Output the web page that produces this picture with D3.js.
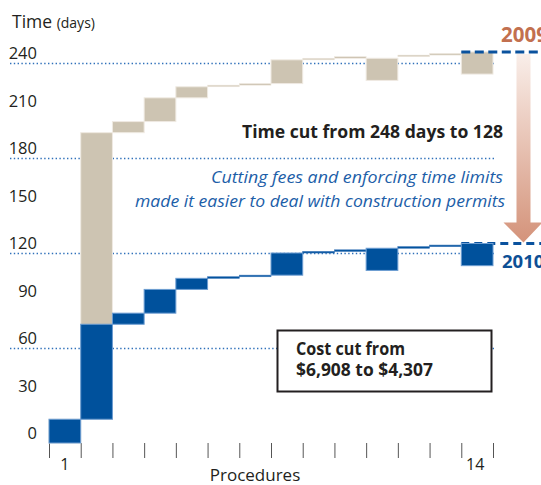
<!DOCTYPE html>
<html>
<head>
<meta charset="utf-8">
<script src="https://cdn.jsdelivr.net/npm/d3@7"></script>
<style>
  body { margin: 0; background: #fff; }
  svg { display: block; font-family: "Open Sans", "Noto Sans", sans-serif; }
</style>
</head>
<body>
<div id="chart"></div>
<script>
// procedures and their start / end day (cumulative)
var procedures = [1, 2, 3, 4, 5, 6, 7, 8, 9, 10, 11, 12, 13, 14];
var start2009 = [0, 15, 196, 203, 218, 225, 226, 227, 242, 243, 229, 244, 245, 233];
var end2009   = [15, 196, 203, 218, 225, 226, 227, 242, 243, 244, 243, 245, 246, 247];
var start2010 = [0, 15, 75, 82, 97, 104, 105, 106, 120, 121, 109, 123, 124, 112];
var end2010   = [15, 75, 82, 97, 104, 105, 106, 120, 121, 122, 123, 124, 125, 126];

var yTicks = [0, 30, 60, 90, 120, 150, 180, 210, 240];
var gridTicks = [60, 120, 180, 240];
var labelledProcedures = [1, 14];

var width = 541, height = 485;

var svg = d3.select("#chart").append("svg")
  .attr("width", width)
  .attr("height", height);

var x = d3.scaleBand()
  .domain(procedures)
  .range([49, 493])
  .padding(0);

var y = d3.scaleLinear()
  .domain([0, 240])
  .range([443, 63]);

// dotted grid lines
svg.append("g")
  .selectAll("line")
  .data(gridTicks)
  .join("line")
  .attr("x1", 10)
  .attr("x2", 495)
  .attr("y1", d => y(d) + 0.5)
  .attr("y2", d => y(d) + 0.5)
  .attr("stroke", "#2f70ba")
  .attr("stroke-width", 1.3)
  .attr("stroke-dasharray", "1.4,2.4");

// y tick labels
svg.append("g")
  .selectAll("text")
  .data(yTicks)
  .join("text")
  .attr("x", 37)
  .attr("y", d => y(d) - 4)
  .attr("text-anchor", "end")
  .attr("font-size", 16.5)
  .attr("fill", "#231f20")
  .text(d => d);

// axis title
var title = svg.append("text")
  .attr("x", 12)
  .attr("y", 28)
  .attr("fill", "#231f20")
  .attr("font-size", 17.5)
  .text("Time ");
title.append("tspan").attr("font-size", 14).text("(days)");

// x axis ticks sit on band edges
var xEdge = d3.scaleLinear().domain([0.5, 14.5]).range([49, 493]);
var xAxis = svg.append("g")
  .attr("transform", "translate(0,443)")
  .call(d3.axisBottom(xEdge)
    .tickValues(d3.range(0.5, 15, 1))
    .tickSize(15)
    .tickFormat(""));
xAxis.select(".domain").remove();
xAxis.selectAll(".tick line").attr("stroke", "#555").attr("stroke-width", 1);

svg.append("g")
  .selectAll("text")
  .data(labelledProcedures)
  .join("text")
  .attr("x", d => x(d) + x.bandwidth() / 2 - (d === 14 ? 2 : 0))
  .attr("y", 470)
  .attr("text-anchor", "middle")
  .attr("font-size", 16)
  .attr("fill", "#231f20")
  .text(d => d);

svg.append("text")
  .attr("x", 255)
  .attr("y", 481)
  .attr("text-anchor", "middle")
  .attr("font-size", 17)
  .attr("fill", "#231f20")
  .text("Procedures");

var data2009 = procedures.map((p, i) => ({ p: p, s: start2009[i], e: end2009[i] }));
var data2010 = procedures.map((p, i) => ({ p: p, s: start2010[i], e: end2010[i] }));

// 2009 bars (tan)
svg.append("g")
  .selectAll("rect")
  .data(data2009)
  .join("rect")
  .attr("x", d => x(d.p))
  .attr("width", x.bandwidth())
  .attr("y", d => y(d.e))
  .attr("height", d => y(d.s) - y(d.e))
  .attr("fill", "#cdc4b2")
  .attr("stroke", "#efeae2")
  .attr("stroke-width", d => d.e - d.s > 1 ? 1 : 0.6);

var end10 = d3.max(end2010);
var end09 = d3.max(end2009);

// 2010 dashed total line (under the bar)
svg.append("line")
  .attr("x1", x(14))
  .attr("x2", width)
  .attr("y1", y(end10))
  .attr("y2", y(end10))
  .attr("stroke", "#0a529e")
  .attr("stroke-width", 3)
  .attr("stroke-dasharray", "8,5");

// 2010 bars (blue)
svg.append("g")
  .selectAll("rect")
  .data(data2010)
  .join("rect")
  .attr("x", d => x(d.p))
  .attr("width", x.bandwidth())
  .attr("y", d => y(d.e))
  .attr("height", d => y(d.s) - y(d.e))
  .attr("fill", "#00519c")
  .attr("stroke", d => d.e - d.s > 1 ? "#6c9dd2" : "#3d78ba")
  .attr("stroke-width", d => d.e - d.s > 1 ? 1 : 0.6);

// 2009 dashed total line
svg.append("line")
  .attr("x1", x(14))
  .attr("x2", width)
  .attr("y1", y(end09))
  .attr("y2", y(end09))
  .attr("stroke", "#0a529e")
  .attr("stroke-width", 3)
  .attr("stroke-dasharray", "9,4.5");

// gradient arrow from the 2009 total down to the 2010 total
var defs = svg.append("defs");
var arrowTop = y(end09) + 2,
  arrowTip = y(end10) - 1,
  headTop = arrowTip - 20,
  ax = 523.5;

var grad = defs.append("linearGradient")
  .attr("id", "arrowGrad")
  .attr("gradientUnits", "userSpaceOnUse")
  .attr("x1", 0).attr("x2", 0)
  .attr("y1", arrowTop).attr("y2", arrowTip);
grad.append("stop").attr("offset", "0%").attr("stop-color", "#f9eee9");
grad.append("stop").attr("offset", "100%").attr("stop-color", "#d4937a");

svg.append("path")
  .attr("d", `M${ax - 7},${arrowTop} L${ax + 7},${arrowTop} L${ax + 7},${headTop} L${ax + 19},${headTop} L${ax},${arrowTip} L${ax - 20},${headTop} L${ax - 7},${headTop} Z`)
  .attr("fill", "url(#arrowGrad)");

svg.append("text")
  .attr("x", 501)
  .attr("y", 42)
  .attr("font-size", 20.5)
  .attr("font-weight", "bold")
  .attr("fill", "#c2704f")
  .text("2009");

svg.append("text")
  .attr("x", 502)
  .attr("y", 268)
  .attr("font-size", 18.5)
  .attr("font-weight", "bold")
  .attr("fill", "#0d4f95")
  .text("2010");

// annotations
svg.append("text")
  .attr("x", 503)
  .attr("y", 138)
  .attr("text-anchor", "end")
  .attr("font-size", 18)
  .attr("font-weight", "bold")
  .attr("fill", "#231f20")
  .attr("textLength", 261)
  .attr("lengthAdjust", "spacingAndGlyphs")
  .text("Time cut from 248 days to 128");

svg.append("text")
  .attr("x", 503)
  .attr("y", 183)
  .attr("text-anchor", "end")
  .attr("font-size", 16.5)
  .attr("font-style", "italic")
  .attr("fill", "#1c5ea8")
  .attr("textLength", 292)
  .attr("lengthAdjust", "spacingAndGlyphs")
  .text("Cutting fees and enforcing time limits");

svg.append("text")
  .attr("x", 505)
  .attr("y", 206.5)
  .attr("text-anchor", "end")
  .attr("font-size", 16.5)
  .attr("font-style", "italic")
  .attr("fill", "#1c5ea8")
  .attr("textLength", 370)
  .attr("lengthAdjust", "spacingAndGlyphs")
  .text("made it easier to deal with construction permits");

// cost box
svg.append("rect")
  .attr("x", 277.5)
  .attr("y", 330.5)
  .attr("width", 214)
  .attr("height", 61)
  .attr("fill", "#fff")
  .attr("stroke", "#231f20")
  .attr("stroke-width", 2);

svg.append("text")
  .attr("x", 296)
  .attr("y", 355)
  .attr("font-size", 17)
  .attr("font-weight", "bold")
  .attr("fill", "#231f20")
  .attr("textLength", 109)
  .attr("lengthAdjust", "spacingAndGlyphs")
  .text("Cost cut from");

svg.append("text")
  .attr("x", 296)
  .attr("y", 375.5)
  .attr("font-size", 17)
  .attr("font-weight", "bold")
  .attr("fill", "#231f20")
  .attr("textLength", 137)
  .attr("lengthAdjust", "spacingAndGlyphs")
  .text("$6,908 to $4,307");
</script>
</body>
</html>
